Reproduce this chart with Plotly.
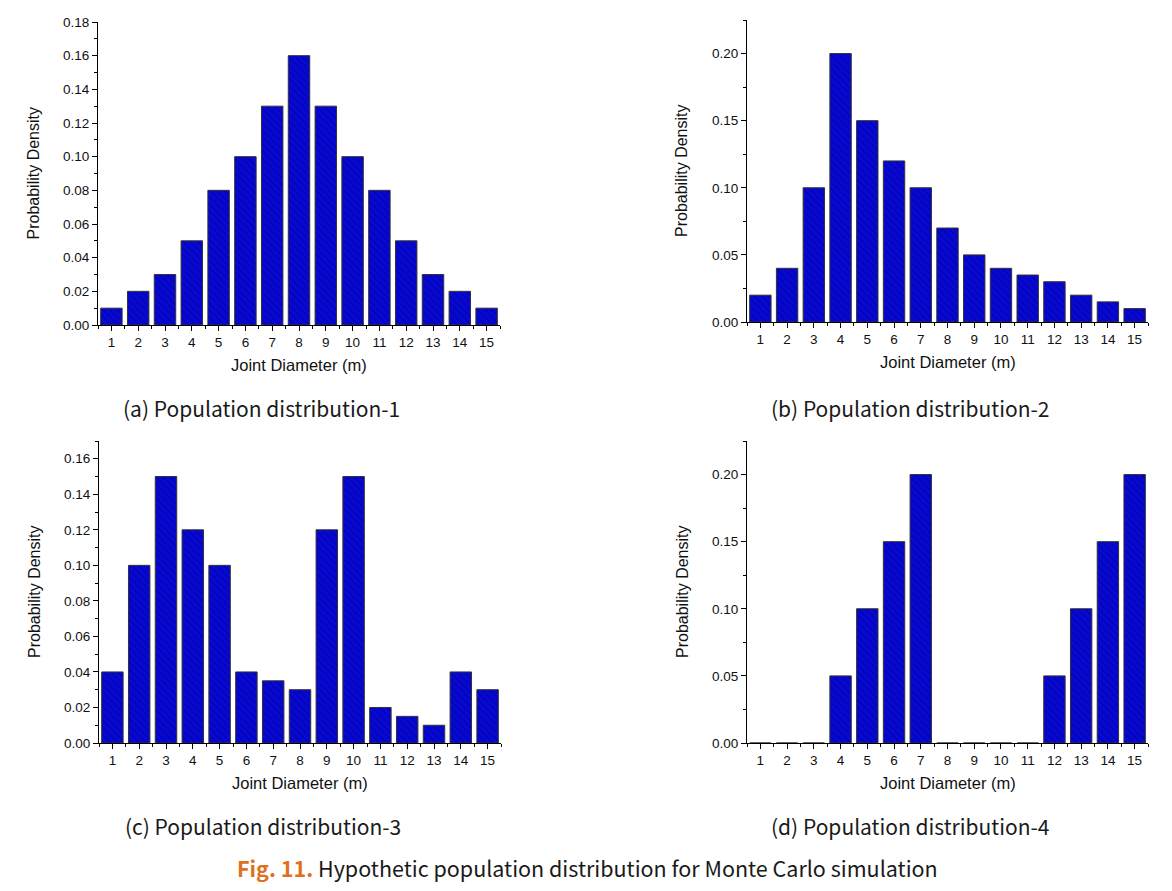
import plotly.graph_objects as go
from plotly.subplots import make_subplots

# the page puts the plot 8px in from the top-left corner, so the figure is
# made 8px smaller and every pixel position below is shifted by that offset
OFF = 8
W, H = 1172 - OFF, 891 - OFF

# data
diameter = list(range(1, 16))
dist1 = [0.01, 0.02, 0.03, 0.05, 0.08, 0.10, 0.13, 0.16, 0.13, 0.10, 0.08, 0.05, 0.03, 0.02, 0.01]
dist2 = [0.02, 0.04, 0.10, 0.20, 0.15, 0.12, 0.10, 0.07, 0.05, 0.04, 0.035, 0.03, 0.02, 0.015, 0.01]
dist3 = [0.04, 0.10, 0.15, 0.12, 0.10, 0.04, 0.035, 0.03, 0.12, 0.15, 0.02, 0.015, 0.01, 0.04, 0.03]
dist4 = [0, 0, 0, 0.05, 0.10, 0.15, 0.20, 0, 0, 0, 0, 0.05, 0.10, 0.15, 0.20]
captions = ["(a) Population distribution-1", "(b) Population distribution-2",
            "(c) Population distribution-3", "(d) Population distribution-4"]
x_title = "Joint Diameter (m)"
y_title = "Probability Density"

# per-panel axis settings: (values, ymax, dtick, minor dtick)
panels = [
    (dist1, 0.18, 0.02, 0.01),
    (dist2, 0.225, 0.05, 0.025),
    (dist3, 0.17, 0.02, 0.01),
    (dist4, 0.225, 0.05, 0.025),
]

# plot boxes in screen pixels: (left, right, top, bottom)
boxes = [
    (98, 500, 22, 325),
    (747, 1148, 20, 322),
    (99, 501, 441, 743),
    (747, 1148, 441, 743),
]


def px(x):
    return (x - OFF) / W


def py(y):
    return 1 - (y - OFF) / H


fig = make_subplots(rows=2, cols=2)
AXFONT = dict(family="Liberation Sans, Arial, sans-serif", size=13.5, color="#111")
TITLEFONT = "Liberation Sans, Arial, sans-serif"
CAPFONT = "Noto Sans CJK KR, Noto Sans, sans-serif"

for i, (vals, ymax, dt, mdt) in enumerate(panels):
    r, c = i // 2 + 1, i % 2 + 1
    fig.add_trace(go.Bar(
        x=diameter, y=vals, width=0.8,
        marker=dict(
            color="#0808d4",
            line=dict(color="#333333", width=1),
            pattern=dict(shape="\\", fgcolor="#00008b", bgcolor="#0808d4",
                         size=5, solidity=0.3),
        ),
        showlegend=False, hoverinfo="x+y",
    ), row=r, col=c)

    l, rr, t, b = boxes[i]
    xa = "xaxis" if i == 0 else f"xaxis{i + 1}"
    ya = "yaxis" if i == 0 else f"yaxis{i + 1}"
    fig.update_layout({
        xa: dict(domain=[px(l), px(rr)], range=[0.5, 15.5], automargin=False,
                 tickmode="linear", tick0=1, dtick=1,
                 ticks="outside", ticklen=5, tickcolor="black",
                 minor=dict(ticks="outside", ticklen=3, dtick=0.5, tick0=0.5,
                            tickcolor="black"),
                 showline=True, linecolor="black", linewidth=1,
                 showgrid=False, zeroline=False, tickfont=AXFONT),
        ya: dict(domain=[py(b), py(t)], range=[0, ymax], automargin=False,
                 tickmode="linear", tick0=0, dtick=dt, tickformat=".2f",
                 ticks="outside", ticklen=5, tickcolor="black",
                 minor=dict(ticks="outside", ticklen=3, dtick=mdt, tick0=0,
                            tickcolor="black"),
                 showline=True, linecolor="black", linewidth=1,
                 showgrid=False, zeroline=False, tickfont=AXFONT),
    })

    # axis titles
    fig.add_annotation(x=px((l + rr) / 2), y=py(b + 40), xref="paper", yref="paper",
                       xanchor="center", yanchor="middle",
                       text=x_title, showarrow=False,
                       font=dict(family=TITLEFONT, size=16.5, color="#111"))
    fig.add_annotation(x=px(l - 65), y=py((t + b) / 2), xref="paper", yref="paper",
                       xanchor="center", yanchor="middle",
                       text=y_title, textangle=-90, showarrow=False,
                       font=dict(family=TITLEFONT, size=16, color="#111"))

# panel captions
cap_pos = [(261, 408), (910, 408), (263, 826), (910, 826)]
for text, (cx, cy) in zip(captions, cap_pos):
    fig.add_annotation(x=px(cx), y=py(cy), xref="paper", yref="paper",
                       xanchor="center", yanchor="middle",
                       text=text, showarrow=False,
                       font=dict(family=CAPFONT, size=21, color="#1a1a1a"))

# figure caption
fig.add_annotation(
    x=px(587), y=py(867), xref="paper", yref="paper", showarrow=False,
    xanchor="center", yanchor="middle",
    text="<b><span style='color:#e0701e'>Fig. 11.</span></b> "
         "Hypothetic population distribution for Monte Carlo simulation",
    font=dict(family=CAPFONT, size=21.5, color="#1a1a1a"))

fig.update_layout(
    width=W, height=H,
    margin=dict(l=0, r=0, t=0, b=0, pad=0),
    paper_bgcolor="white", plot_bgcolor="white",
    bargap=0.2,
)

fig.write_html("out.html")
